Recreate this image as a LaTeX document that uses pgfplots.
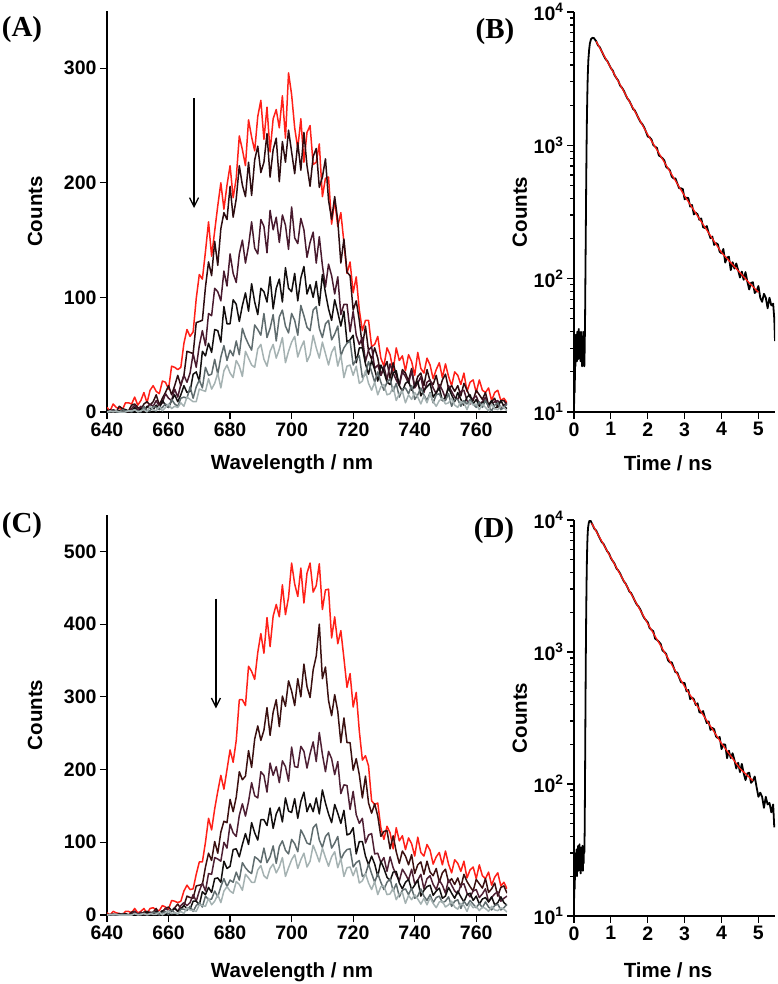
\documentclass[border=0pt]{standalone}
\usepackage{fontspec}
\setmainfont{Liberation Sans}
\newfontfamily\panelfont{Liberation Serif}
\usepackage{pgfplots}
\pgfplotsset{compat=1.18}
\usepackage{pgfplotstable}
\usetikzlibrary{arrows.meta}

\definecolor{cRed}{RGB}{255,32,24}
\definecolor{cDkA}{RGB}{45,12,16}
\definecolor{cPuA}{RGB}{72,26,46}
\definecolor{cBk}{RGB}{18,14,14}
\definecolor{cGr}{RGB}{95,108,110}
\definecolor{cLg}{RGB}{165,178,178}
\definecolor{cDkC}{RGB}{58,16,16}
\definecolor{cPuC}{RGB}{78,32,52}

\pgfplotstableread{
x a1 a2 a3 a4 a5 a6
640 4 0 0 1 0 0
641 1 2 0 0 0 1
642 7 1 2 0 1 0
643 4 0 1 1 0 1
644 3 5 0 1 0 0
645 2 3 2 1 2 0
646 8 2 2 2 1 0
647 8 1 0 0 1 1
648 7 6 3 1 0 1
649 13 7 6 4 2 2
650 6 4 2 0 1 0
651 10 2 5 3 0 1
652 17 7 1 1 5 2
653 8 9 4 5 1 0
654 19 6 7 3 1 5
655 23 9 5 2 5 2
656 18 15 10 6 4 1
657 16 6 5 3 2 5
658 27 12 8 10 4 1
659 26 17 16 6 7 4
660 20 23 12 4 4 7
661 40 15 10 10 11 3
662 39 23 20 15 7 5
663 37 32 13 9 5 4
664 39 23 24 15 12 8
665 60 32 32 23 13 5
666 72 53 26 17 12 13
667 66 52 34 18 22 11
668 70 51 51 33 12 9
669 99 78 39 35 22 9
670 120 79 58 27 28 20
671 116 80 71 53 21 19
672 140 109 58 49 39 18
673 166 131 86 60 32 29
674 136 119 84 52 33 20
675 158 149 108 72 46 25
676 180 128 105 71 33 34
677 200 160 97 61 48 21
678 177 174 123 92 58 36
679 198 168 110 77 45 41
680 215 197 138 77 54 34
681 187 170 121 98 49 30
682 204 186 113 94 62 45
683 241 215 138 79 50 40
684 229 198 150 93 73 31
685 215 188 130 104 65 53
686 255 218 145 88 59 47
687 240 189 166 112 54 41
688 228 220 143 96 76 39
689 258 232 138 85 72 55
690 272 209 168 108 67 59
691 238 218 162 105 86 46
692 266 243 139 96 65 40
693 227 205 176 118 73 53
694 256 229 159 90 85 59
695 264 239 170 108 62 47
696 248 201 148 116 83 55
697 276 236 172 96 89 65
698 239 218 163 126 75 43
699 296 246 142 108 69 53
700 277 227 179 105 86 61
701 248 208 152 121 80 66
702 230 235 147 97 67 48
703 256 211 169 117 93 56
704 218 244 159 127 84 62
705 244 215 135 103 74 44
706 250 197 148 111 71 50
707 216 223 157 100 89 67
708 218 230 130 114 92 56
709 234 196 153 93 73 47
710 188 205 128 120 65 61
711 204 221 109 104 77 51
712 205 185 129 90 80 41
713 164 168 119 80 63 52
714 185 188 103 98 68 57
715 162 167 118 87 75 40
716 174 130 85 75 49 50
717 148 151 94 88 56 30
718 121 122 94 61 60 40
719 131 119 70 63 62 41
720 104 89 88 67 41 32
721 118 97 67 43 46 40
722 89 80 59 56 49 25
723 71 57 65 56 30 27
724 80 75 44 42 33 36
725 80 53 54 33 44 25
726 57 46 57 45 35 19
727 59 56 38 37 26 26
728 66 47 41 27 35 15
729 47 32 32 41 26 22
730 40 38 40 35 19 24
731 56 44 28 26 26 15
732 50 29 42 24 29 16
733 36 43 34 34 18 22
734 56 32 28 36 25 10
735 45 24 23 23 13 16
736 49 37 35 18 20 18
737 36 34 31 25 21 8
738 50 27 25 27 16 15
739 44 38 36 19 23 11
740 32 22 21 23 11 17
741 52 31 25 27 15 13
742 38 34 31 14 21 7
743 34 23 17 19 15 14
744 47 37 26 22 10 8
745 41 27 28 25 17 16
746 29 24 21 13 8 9
747 37 32 16 17 15 5
748 43 19 24 21 16 10
749 30 28 19 10 10 12
750 42 33 12 13 10 7
751 31 20 23 21 16 8
752 23 23 18 15 5 12
753 35 18 13 9 11 6
754 32 23 11 17 11 4
755 24 14 18 11 5 9
756 34 25 19 6 10 8
757 18 19 10 13 7 2
758 26 13 7 15 11 9
759 28 10 12 7 7 6
760 17 19 14 11 4 7
761 28 15 7 5 9 2
762 19 11 9 8 4 7
763 17 17 13 10 10 4
764 21 6 4 6 5 1
765 10 9 7 10 1 7
766 17 12 9 3 6 3
767 19 4 10 5 8 2
768 10 10 3 10 2 5
769 12 10 6 5 4 4
770 8 6 8 3 7 1
}\tabA

\pgfplotstableread{
x c1 c2 c3 c4 c5 c6
640 3 0 0 1 0 0
641 0 1 0 0 0 1
642 5 1 1 0 1 0
643 3 0 0 1 0 1
644 2 2 0 0 0 0
645 0 1 2 1 1 0
646 5 1 1 2 0 0
647 5 0 0 0 1 0
648 3 4 1 1 0 0
649 9 5 5 2 2 2
650 3 1 1 0 1 0
651 5 1 4 1 0 1
652 9 4 0 1 2 2
653 2 5 3 4 1 0
654 9 3 4 2 1 2
655 10 4 2 0 4 1
656 7 9 6 5 3 1
657 6 1 2 2 0 4
658 13 5 4 6 3 0
659 11 9 9 3 5 3
660 8 11 6 1 1 6
661 20 6 5 6 7 2
662 19 10 10 9 3 3
663 17 15 5 5 1 2
664 19 9 13 8 8 5
665 33 13 17 13 8 2
666 41 26 13 9 6 10
667 35 24 17 8 12 7
668 36 23 28 19 5 6
669 56 40 19 19 13 5
670 73 41 33 14 17 14
671 73 42 44 32 11 13
672 100 66 33 28 26 12
673 133 85 57 38 21 23
674 117 75 56 31 22 14
675 146 101 79 50 33 19
676 170 85 77 51 25 28
677 192 114 74 45 39 17
678 173 129 100 74 50 33
679 200 127 92 64 39 39
680 227 159 125 67 48 33
681 210 142 113 90 45 30
682 240 162 108 91 59 46
683 296 197 137 80 48 42
684 296 186 153 97 72 34
685 288 191 136 112 65 56
686 342 226 156 97 60 51
687 335 203 182 127 57 45
688 324 242 164 113 80 45
689 361 260 161 103 77 62
690 387 240 197 131 72 68
691 360 254 192 131 92 54
692 409 285 169 123 72 50
693 369 247 209 147 80 64
694 411 279 192 119 95 70
695 427 296 204 139 71 58
696 410 259 182 148 94 66
697 454 301 212 128 102 79
698 413 287 204 161 89 53
699 437 322 184 143 84 65
700 484 308 231 141 104 76
701 455 288 204 160 98 83
702 438 325 203 133 87 64
703 477 300 232 156 117 76
704 429 345 225 169 109 85
705 470 314 202 142 99 66
706 484 299 222 153 97 74
707 444 337 238 142 120 96
708 453 356 211 161 125 85
709 483 400 251 139 103 73
710 420 325 221 172 93 92
711 447 341 197 154 108 79
712 448 295 225 139 113 67
713 381 274 215 127 92 80
714 410 303 193 152 99 87
715 373 280 211 140 108 65
716 391 237 167 126 76 78
717 353 271 179 144 85 53
718 313 237 178 110 90 65
719 332 237 145 112 91 66
720 286 199 170 120 66 54
721 306 215 138 84 72 65
722 253 193 126 101 75 44
723 213 161 133 101 53 47
724 219 191 99 81 56 57
725 205 154 110 69 70 44
726 157 140 112 81 57 35
727 152 153 84 70 45 46
728 154 136 85 53 57 28
729 120 108 72 74 45 39
730 104 115 79 64 35 40
731 122 116 60 52 45 28
732 113 91 80 47 50 29
733 91 109 65 59 33 37
734 120 87 55 60 43 21
735 102 71 47 44 25 29
736 109 88 63 36 34 31
737 90 81 56 45 36 16
738 106 69 48 49 28 27
739 98 83 63 35 37 21
740 81 57 43 41 23 28
741 107 69 48 48 26 22
742 86 73 56 26 36 15
743 81 56 36 34 26 23
744 97 74 50 39 20 14
745 89 59 54 41 28 24
746 70 54 42 27 17 16
747 80 64 35 33 24 10
748 86 45 48 37 26 18
749 69 58 41 23 17 19
750 88 63 30 26 19 11
751 70 45 49 38 25 14
752 58 50 41 30 12 19
753 76 42 33 23 19 11
754 71 51 29 33 21 8
755 60 38 41 25 9 16
756 74 56 43 18 19 13
757 51 46 30 28 13 5
758 62 39 25 30 20 16
759 66 33 33 20 15 10
760 50 49 35 26 10 12
761 69 43 24 15 16 6
762 54 37 29 22 10 11
763 50 50 36 24 18 9
764 59 31 18 18 11 5
765 41 36 24 25 7 12
766 52 44 29 14 13 7
767 58 26 32 17 15 6
768 40 38 19 25 7 10
769 45 40 23 17 10 8
770 36 30 26 13 15 4
}\tabC

\pgfplotstableread{
t v
0.00 10
0.01 18
0.02 14
0.03 30
0.04 22
0.05 38
0.06 26
0.07 34
0.08 24
0.09 40
0.10 28
0.11 36
0.12 25
0.13 42
0.14 30
0.15 38
0.16 27
0.17 35
0.18 24
0.19 40
0.20 29
0.21 37
0.22 22
0.23 36
0.24 26
0.25 40
0.26 24
0.27 33
0.28 22
0.29 30
0.30 50
0.31 110
0.32 230
0.33 500
0.34 950
0.35 1600
0.36 2300
0.37 3100
0.38 3800
0.39 4400
0.41 5200
0.43 5800
0.46 6250
0.50 6400
0.54 6380
0.57 6200
0.60 6053
0.65 5621
0.70 5443
0.75 5078
0.80 4750
0.85 4458
0.90 4304
0.95 4039
1.00 3785
1.05 3643
1.10 3358
1.15 3194
1.20 3052
1.25 2808
1.30 2708
1.35 2571
1.40 2392
1.45 2241
1.50 2154
1.55 2018
1.60 1879
1.65 1823
1.70 1706
1.75 1593
1.80 1500
1.85 1444
1.90 1369
1.95 1268
2.00 1164
2.05 1149
2.10 1107
2.15 1005
2.20 977
2.25 956
2.30 840
2.35 823
2.40 800
2.45 770
2.50 688
2.55 671
2.60 650
2.65 582
2.70 564
2.75 565
2.80 519
2.85 477
2.90 476
2.95 470
3.00 394
3.05 405
3.10 402
3.15 347
3.20 357
3.25 303
3.30 313
3.35 304
3.40 276
3.45 283
3.50 243
3.55 240
3.60 248
3.65 221
3.70 201
3.75 207
3.80 179
3.85 185
3.90 181
3.95 159
4.00 155
4.05 167
4.10 132
4.15 144
4.20 146
4.25 116
4.30 133
4.35 119
4.40 130
4.45 116
4.50 102
4.55 113
4.60 98
4.65 112
4.70 95
4.75 83
4.80 93
4.85 94
4.90 78
4.95 81
5.00 88
5.05 72
5.10 67
5.15 77
5.20 72
5.25 60
5.30 72
5.35 63
5.40 65
5.43 50
5.45 34
}\tabB

\pgfplotstableread{
t v
0.60 6026
0.80 4786
1.00 3802
1.25 2851
1.50 2138
1.75 1603
2.00 1202
2.25 923
2.50 708
2.75 543
3.00 417
3.25 326
3.50 255
3.75 200
4.00 157
4.25 132
4.50 111
4.75 93
5.00 79
}\fitB

\pgfplotstableread{
t v
0.00 12
0.01 20
0.02 16
0.03 28
0.04 22
0.05 30
0.06 24
0.07 32
0.08 20
0.09 30
0.10 26
0.11 34
0.12 22
0.13 31
0.14 25
0.15 35
0.16 23
0.17 30
0.18 21
0.19 33
0.20 26
0.21 30
0.22 24
0.23 34
0.24 22
0.25 29
0.26 25
0.27 33
0.28 30
0.29 45
0.30 120
0.31 350
0.32 900
0.33 1900
0.34 3300
0.35 5000
0.36 6600
0.37 7800
0.38 8700
0.40 9500
0.42 9850
0.44 9950
0.46 9750
0.48 9480
0.50 9268
0.55 8605
0.60 8333
0.65 7774
0.70 7273
0.75 6825
0.80 6590
0.85 6184
0.90 5795
0.95 5577
1.00 5141
1.05 4891
1.10 4673
1.15 4300
1.20 4146
1.25 3937
1.30 3662
1.35 3431
1.40 3298
1.45 3090
1.50 2878
1.55 2791
1.60 2612
1.65 2440
1.70 2296
1.75 2211
1.80 2096
1.85 1941
1.90 1819
1.95 1743
2.00 1680
2.05 1518
2.10 1472
2.15 1437
2.20 1261
2.25 1235
2.30 1197
2.35 1151
2.40 1026
2.45 1000
2.50 965
2.55 864
2.60 834
2.65 835
2.70 766
2.75 702
2.80 700
2.85 642
2.90 591
2.95 585
3.00 581
3.05 503
3.10 516
3.15 439
3.20 452
3.25 439
3.30 397
3.35 409
3.40 350
3.45 346
3.50 357
3.55 318
3.60 289
3.65 298
3.70 257
3.75 266
3.80 260
3.85 229
3.90 223
3.95 227
4.00 184
4.05 200
4.10 199
4.15 157
4.20 179
4.25 157
4.30 171
4.35 152
4.40 131
4.45 145
4.50 123
4.55 142
4.60 121
4.65 107
4.70 120
4.75 122
4.80 102
4.85 106
4.90 114
4.95 95
5.00 80
5.05 86
5.10 80
5.15 66
5.20 80
5.25 70
5.30 72
5.35 61
5.40 70
5.43 47
}\tabD

\pgfplotstableread{
t v
0.48 9440
0.75 6918
1.00 5188
1.25 3890
1.50 2917
1.75 2188
2.05 1549
2.25 1245
2.50 946
2.75 719
3.00 547
3.25 427
3.50 334
3.75 261
4.00 203
4.25 163
4.50 131
4.70 116
4.85 106
}\fitD

\newcommand\labfont{\fontsize{20.5}{22}\selectfont\bfseries}
\pgfplotsset{
  myaxis/.style={
    scale only axis,
    axis lines=left,
    axis line style={line width=1.4pt,-},
    tick align=outside,
    major tick length=7pt,
    minor tick length=4pt,
    every tick/.style={black,line width=1.2pt},
    enlargelimits=false,
    /pgf/number format/assume math mode=true,
    ticklabel style={font=\fontsize{19.5}{20}\selectfont\bfseries},
  },
  specaxis/.style={
    myaxis,
    width=400pt,
    xmin=640, xmax=770,
    xtick={640,660,680,700,720,740,760},
    xlabel={Wavelength / nm},
    ylabel={Counts},
    every axis y label/.style={at={(axis description cs:-0.18,0.5)},rotate=90,anchor=center,font=\labfont},
  },
  decayaxis/.style={
    myaxis,
    width=201pt,
    xmin=0, xmax=5.45,
    ymin=10, ymax=10000,
    xtick={0,1,2,3,4,5},
    ytick={10,100,1000,10000},
    yticklabels={10\textsuperscript{1},10\textsuperscript{2},10\textsuperscript{3},10\textsuperscript{4}},
    minor ytick={20,30,40,50,60,70,80,90,200,300,400,500,600,700,800,900,2000,3000,4000,5000,6000,7000,8000,9000},
    xlabel={Time / ns},
    ylabel={Counts},
    every axis y label/.style={at={(axis description cs:-0.27,0.5)},rotate=90,anchor=center,font=\labfont},
  },
  spec/.style={line width=1.5pt, line join=round},
  decay/.style={black, line width=1.8pt, line join=round},
  fit/.style={cRed, line width=1.3pt},
}

\begin{document}
\begin{tikzpicture}
\useasboundingbox (0pt,0pt) rectangle (778pt,-984pt);

% (A)
\begin{axis}[specaxis, at={(107pt,-412pt)}, anchor=south west, height=401pt,
  ymin=0, ymax=350, ytick={0,100,200,300},
  every axis x label/.style={at={(axis description cs:0.4625,-0.13)},anchor=center,font=\labfont}]
\addplot[spec, cRed] table[x=x,y=a1]{\tabA};
\addplot[spec, cDkA] table[x=x,y=a2]{\tabA};
\addplot[spec, cPuA] table[x=x,y=a3]{\tabA};
\addplot[spec, cBk] table[x=x,y=a4]{\tabA};
\addplot[spec, cGr] table[x=x,y=a5]{\tabA};
\addplot[spec, cLg] table[x=x,y=a6]{\tabA};
\addplot[black, line width=1.3pt, -{Straight Barb[length=9pt,width=9pt,line width=1.3pt]}] coordinates {(668.3,274) (668.3,178)};
\end{axis}

% (B)
\begin{semilogyaxis}[decayaxis, at={(574pt,-412pt)}, anchor=south west, height=400pt,
  every axis x label/.style={at={(axis description cs:0.468,-0.128)},anchor=center,font=\labfont}]
\addplot[decay] table[x=t,y=v]{\tabB};
\addplot[fit] table[x=t,y=v]{\fitB};
\end{semilogyaxis}

% (C)
\begin{axis}[specaxis, at={(107pt,-915pt)}, anchor=south west, height=400pt,
  ymin=0, ymax=550, ytick={0,100,200,300,400,500},
  every axis x label/.style={at={(axis description cs:0.4625,-0.142)},anchor=center,font=\labfont}]
\addplot[spec, cRed] table[x=x,y=c1]{\tabC};
\addplot[spec, cDkC] table[x=x,y=c2]{\tabC};
\addplot[spec, cPuC] table[x=x,y=c3]{\tabC};
\addplot[spec, cBk] table[x=x,y=c4]{\tabC};
\addplot[spec, cGr] table[x=x,y=c5]{\tabC};
\addplot[spec, cLg] table[x=x,y=c6]{\tabC};
\addplot[black, line width=1.3pt, -{Straight Barb[length=9pt,width=9pt,line width=1.3pt]}] coordinates {(675.4,435) (675.4,284)};
\end{axis}

% (D)
\begin{semilogyaxis}[decayaxis, at={(574pt,-916pt)}, anchor=south west, height=396pt,
  every axis x label/.style={at={(axis description cs:0.468,-0.136)},anchor=center,font=\labfont}]
\addplot[decay] table[x=t,y=v]{\tabD};
\addplot[fit] table[x=t,y=v]{\fitD};
\end{semilogyaxis}

\node[font=\fontsize{29}{30}\selectfont\panelfont\bfseries] at (22pt,-30pt) {(A)};
\node[font=\fontsize{29}{30}\selectfont\panelfont\bfseries] at (495pt,-32pt) {(B)};
\node[font=\fontsize{29}{30}\selectfont\panelfont\bfseries] at (22pt,-526pt) {(C)};
\node[font=\fontsize{29}{30}\selectfont\panelfont\bfseries] at (494pt,-531pt) {(D)};
\end{tikzpicture}
\end{document}
